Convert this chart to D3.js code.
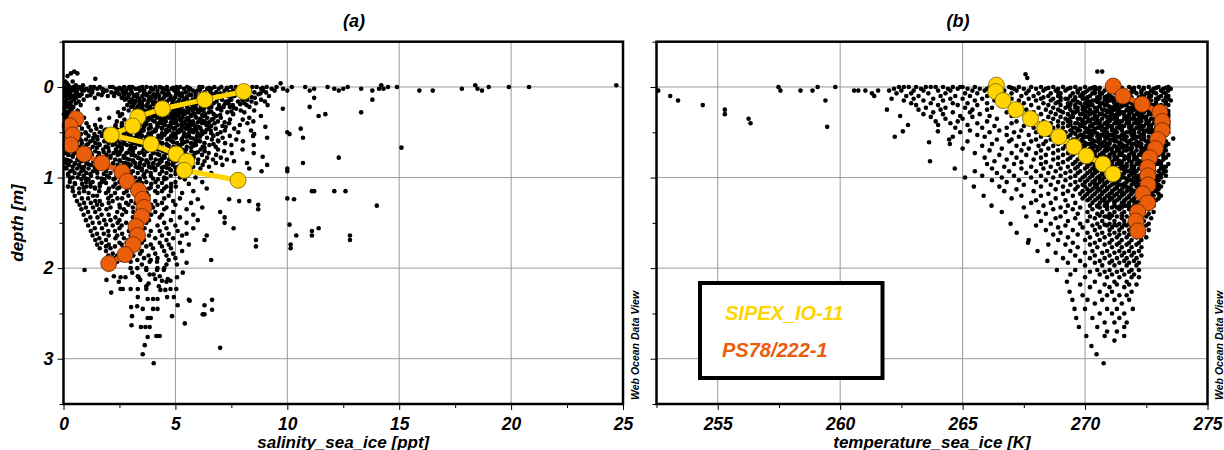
<!DOCTYPE html>
<html><head><meta charset="utf-8">
<script src="https://cdn.jsdelivr.net/npm/d3@7"></script>
<style>
body{margin:0;background:#fff}
svg text{font-family:"Liberation Sans",Arial,Helvetica,sans-serif;font-weight:bold;font-style:italic}
</style>
</head><body>
<svg id="chart" width="1224" height="450"></svg>
<script>
// ---------------- data ----------------
const salTicks = [0, 5, 10, 15, 20, 25];
const salMinor = [2.5, 7.5, 12.5, 17.5, 22.5];
const tempTicks = [255, 260, 265, 270, 275];
const tempMinor = [252.5, 257.5, 262.5, 267.5, 272.5];
const depthTicks = [0, 1, 2, 3];
const depthMinor = [-0.5, 0.5, 1.5, 2.5, 3.5];
const titles = ["(a)", "(b)"];
const xLabels = ["salinity_sea_ice [ppt]", "temperature_sea_ice [K]"];
const yLabel = "depth [m]";
const seriesNames = ["SIPEX_IO-11", "PS78/222-1"];

// all samples: [depth, [salinity values at that depth]]
const salRows = [
[-0.17,[0.48]],[-0.15,[0.33,0.62]],[-0.12,[0.18]],[-0.09,[1.42]],[-0.06,[0.08,0.41]],[-0.04,[9.7,0.15]],
[-0.02,[0.22,0.87,14.2,18.4,24.7,0.55]],
[0,[0.05,0.27,0.44,0.71,0.83,1.21,1.36,1.62,2.08,2.2,2.71,2.95,3.08,3.52,3.71,4.11,4.3,4.62,5.05,5.21,5.52,6.07,6.2,6.74,7.05,7.49,7.7,8.44,8.63,9.08,9.52,10.2,10.8,11.8,12.7,14.5,14.9,19.0,19.9,20.8]],
[0.01,[0.15,0.5,2.5,2.9,3.4,3.9,4.4,4.9,5.6,6.5,7.3,8.1,8.9]],
[0.02,[0.12,0.36,0.62,1.02,1.51,1.72,2.33,2.57,3.21,3.33,3.94,4.48,4.83,5.38,5.66,6.42,6.61,6.93,7.31,7.92,8.12,8.83,9.3,9.81,11.2,12.1,12.5,13.3,14.1,14.3,17.8,18.5]],
[0.03,[2.6,3.0,3.5,4.0,4.5,5.1,5.6,6.1,0.4,0.8,1.3,1.8]],
[0.04,[0.19,0.48,0.92,1.13,1.93,2.42,2.8,3.42,3.61,4.2,4.66,4.95,5.78,5.98,6.55,7.2,7.58,8.33,8.92,9.43,10.0,11.0,12.3,13.8,15.9,16.5,18.7]],
[0.06,[0.07,0.31,0.6,1.28,1.77,2.14,2.67,3.05,3.85,4.41,5.12,5.46,6.3,6.82,7.41,8.0,8.53,9.05]],
[0.07,[2.3,2.8,3.6,4.2,4.7,5.3,5.9,6.6,7.0,7.9,8.8]],
[0.08,[0.23,0.54,0.81,1.55,2.49,2.93,3.3,3.71,4.03,4.55,5.03,5.63,6.13,6.68,7.12,7.83,8.71]],
[0.09,[2.7,3.2,3.7,4.1,4.6,5.2,5.7,6.2,0.3,0.7,1.2,1.7]],
[0.1,[0.1,0.41,0.72,1.06,1.98,2.26,3.14,3.52,4.27,4.78,5.29,5.9,6.44,7.34,7.64,8.22,9.18]],
[0.11,[0.3,2.9,3.3,3.9,4.5,5.0,5.5,6.1,6.8,7.5,8.4]],
[0.12,[0.28,0.56,1.4,2.6,3.83,4.1,4.96,5.52,6.03,6.91,7.97,8.55,11.2]],
[0.13,[2.8,3.4,3.9,4.3,4.8,5.4,5.9,6.4]],
[0.14,[0.14,0.47,0.9,2.74,3.05,3.6,4.42,4.72,5.18,5.77,6.24,7.08,7.5,8.21,8.83,13.8]],
[0.15,[3.2,3.8,4.3,4.9,5.4,6.0,6.5,7.4,8.0]],
[0.16,[0.06,0.35,0.68,2.95,3.38,3.97,4.61,5.35,5.61,6.58,6.84,7.25,7.8,8.4,9.0]],
[0.17,[3.0,3.5,4.1,4.6,5.1,5.6,6.2]],
[0.18,[0.21,0.55,3.18,3.76,4.28,4.87,5.06,5.44,6.02,6.71,7.37,8.09,8.6]],
[0.19,[3.4,4.0,4.6,5.2,5.7,6.3,7.2,7.9]],
[0.2,[0.09,0.32,0.77,2.85,3.52,4.16,4.52,4.99,5.83,6.36,6.95,7.56,8.18,9.12]],
[0.21,[3.1,3.7,4.3,4.8,5.3,5.9,6.4]],
[0.22,[0.2,0.44,3.02,3.3,3.87,4.71,5.25,5.52,6.14,6.61,7.15,7.43,8.31,11.0]],
[0.23,[3.5,4.2,4.5,5.1,5.8,6.5,7.0,7.6]],
[0.24,[0.05,0.38,1.52,2.7,3.45,4.06,4.34,4.92,5.68,5.92,6.28,6.88,7.71,9.8]],
[0.25,[3.2,3.8,4.2,4.7,5.2,5.6,6.1]],
[0.26,[0.28,0.63,2.91,3.62,3.96,4.48,5.04,5.37,5.77,6.2,7.05,7.92,8.52]],
[0.27,[3.3,3.8,4.4,4.9,5.5,6.0,6.6,7.5]],
[0.28,[0.12,0.19,2.44,3.14,3.81,4.23,4.67,5.18,5.57,6.04,6.5,7.32,8.08,13.3]],
[0.29,[3.5,4.0,4.5,5.0,5.3,5.8,6.3]],
[0.3,[0.02,0.25,0.51,2.62,3.37,3.92,4.41,4.83,5.42,5.85,6.33,6.71,7.58,11.7]],
[0.31,[3.1,3.6,4.1,4.6,5.1,5.7,6.2,7.0]],
[0.32,[0.18,0.42,2.52,3.55,4.02,4.55,4.95,5.12,5.7,6.27,6.83,8.82,11.4]],
[0.33,[3.3,3.8,4.3,4.8,5.3,5.9]],
[0.34,[0.08,0.31,0.92,2.04,3.71,4.18,4.68,5.32,5.58,5.93,6.42,7.03,8.3]],
[0.35,[3.9,4.5,5.0,5.5,6.1,6.7]],
[0.36,[0.22,1.62,2.72,3.82,4.35,4.86,5.2,5.51,6.1,6.62,7.44,8.01]],
[0.37,[3.4,4.0,4.5,5.0,5.6,6.2]],
[0.38,[0.07,0.39,2.38,3.48,4.07,4.57,5.03,5.27,5.78,6.31,6.9,8.48]],
[0.39,[3.7,4.3,4.8,5.4,6.0,6.5,7.2]],
[0.4,[0.27,1.03,2.61,3.66,4.38,4.98,5.4,5.63,6.19,6.75,7.4,8.22]],
[0.41,[3.2,3.7,4.2,4.8,5.3,5.8,6.4]],
[0.42,[0.11,0.16,0.7,1.41,2.33,3.4,3.88,4.52,5.11,5.52,5.71,6.38,7.88]],
[0.43,[2.6,3.0,3.6,4.2,4.7,5.3,5.9,6.6,7.1]],
[0.44,[0.38,1.12,1.68,2.31,2.98,3.6,4.21,4.8,5.32,5.5,6.02,6.51,7.25,9.02]],
[0.45,[2.8,3.3,3.9,4.4,5.0,5.6,6.1]],
[0.46,[0.06,0.3,0.82,1.47,2.62,3.18,3.81,4.4,4.93,5.45,5.88,6.12,6.8,7.63,10.6]],
[0.47,[1.9,2.4,2.9,3.5,4.1,4.6,5.2,5.7,6.4]],
[0.48,[0.2,0.57,1.22,1.83,2.52,3.07,3.58,4.12,4.73,5.27,5.62,5.92,6.58,7.21,8.38]],
[0.49,[2.5,3.0,3.5,4.1,4.6,5.1,5.7,6.2]],
[0.5,[0.08,0.43,0.98,1.62,2.2,2.81,3.42,3.97,4.6,5.15,5.8,6.33,7.02,7.81,10.0]],
[0.51,[1.0,1.8,2.3,2.7,3.3,3.8,4.4,4.9,5.4,6.0,6.6]],
[0.52,[0.31,0.78,1.38,2.03,2.71,3.27,3.9,4.52,5.01,5.59,6.2,6.88,8.52,10.1]],
[0.53,[2.4,2.9,3.4,3.9,4.5,5.0,5.6,6.1]],
[0.54,[0.13,0.5,1.12,1.71,2.44,3.0,3.51,4.24,4.81,5.37,5.97,6.7,7.43,8.47]],
[0.55,[0.6,1.5,2.1,2.6,3.3,3.7,4.3,4.9,5.5,6.1]],
[0.56,[0.22,0.71,1.33,1.94,2.62,3.18,3.8,4.38,5.02,5.68,6.41,7.11,9.1,10.7]],
[0.57,[2.6,3.2,3.7,4.2,4.7,5.3,5.8]],
[0.58,[0.4,1.01,1.52,2.13,2.82,3.4,4.02,4.63,5.28,5.91,6.63,7.72]],
[0.59,[0.2,0.8,1.3,1.9,2.4,3.0,3.5,4.1,4.8,5.3,6.0,6.9]],
[0.6,[0.09,0.6,1.2,1.82,2.3,2.98,3.62,4.18,4.88,5.52,6.1,6.92,8.02]],
[0.61,[2.7,3.2,3.7,4.3,4.9,5.4,5.9]],
[0.62,[0.3,0.82,1.43,2.01,2.52,3.13,3.7,4.41,5.08,5.7,6.3,7.22]],
[0.63,[0.5,1.1,1.6,2.3,2.7,3.3,3.9,4.6,5.3,5.8,6.7]],
[0.64,[0.11,0.52,1.03,1.62,2.2,2.83,3.42,4.02,4.63,5.2,5.92,6.52,7.5,8.5]],
[0.65,[2.5,3.0,3.6,4.1,4.7,5.2,5.8]],
[0.66,[0.23,0.72,1.31,1.88,2.42,3.02,3.63,4.31,4.92,5.51,6.22,6.8]],
[0.67,[15.1,0.3,0.9,1.5,2.0,2.6,3.2,3.8,4.4,5.1,5.7,6.3]],
[0.69,[0.12,0.58,1.18,1.77,2.34,2.96,3.58,4.21,4.87,5.48,6.13,6.9,8.0,2.6,3.1,3.7,4.3,4.8,5.3]],
[0.71,[0.33,0.83,1.42,2.03,2.55,3.1,3.74,4.44,5.09,5.72,6.31,7.18]],
[0.72,[0.1,0.6,1.2,1.8,2.4,2.9,3.5,4.0,4.7,5.4,6.0]],
[0.73,[0.07,0.49,1.01,1.58,2.24,2.81,3.38,4.03,4.6,5.23,5.88,6.49,7.52,8.5]],
[0.74,[2.5,3.1,3.6,4.2,4.8,5.4]],
[0.75,[0.21,0.74,1.27,1.92,2.42,3.04,3.61,4.28,4.91,5.53,6.19,6.82]],
[0.76,[0.4,1.0,1.6,2.1,2.7,3.2,3.9,4.5,5.1,5.8]],
[0.77,[8.9,0.41,1.53]],
[0.78,[0.93,2.1,2.68,3.32,3.91,4.52,5.18,5.81,6.42,7.03,12.3]],
[0.79,[2.8,3.4,3.9,4.4,5.0]],
[0.8,[0.1,0.62,1.1,1.72,2.31,2.93,3.5,4.12,4.72,5.38,6.02,6.68,7.3]],
[0.81,[0.2,0.7,1.4,1.9,2.5,3.1,3.7,4.3,4.9,5.6]],
[0.82,[0.32,0.81,1.34,1.9,2.53,3.12,3.72,4.38,5.02,5.61,6.3,7.62]],
[0.84,[0.12,0.52,1.02,1.61,2.22,2.78,3.42,4.02,4.62,5.28,6.0,6.81,8.2,10.7,2.7,3.2,3.8,4.3,4.9]],
[0.85,[0.5,1.1,1.6,2.2,2.9,3.4,4.0,4.7,5.3]],
[0.86,[9.1,0.24,0.7,1.23,1.82,2.41,3.0,3.61,4.21,4.88,5.52,6.22,7.1]],
[0.88,[0.41,0.92,1.41,2.02,2.62,3.22,3.82,4.5,5.12,5.8,6.5]],
[0.89,[0.1,0.8,1.4,2.0,2.6,3.3,3.9,4.4,5.0,5.7,2.9,3.4,4.0,4.6]],
[0.9,[10.0,0.13,0.61,1.12,1.68,2.22,2.88,3.5,4.1,4.72,5.41,6.12,8.3]],
[0.92,[0.4,0.9,1.5,2.3,2.9,3.5,4.1,4.8]],
[0.93,[10.0,0.3,0.8,1.32,1.9,2.52,3.1,3.72,4.41,5.02,5.7,8.85]],
[0.95,[0.5,1.02,1.51,2.1,2.7,3.32,3.9,4.6,5.22,6.0,6.6]],
[0.96,[0.2,0.7,1.2,1.8,2.4,3.0,3.6,4.3,5.0]],
[0.98,[0.22,0.9,1.23,1.95,2.38,2.71,3.57,3.9,4.79,5.52]],
[1.0,[0.41,0.63,1.52,2.04,2.9,3.2,3.63,4.5,5.2,5.9]],
[1.01,[0.3,1.0,1.7,2.3,2.7,3.4,4.0,4.6]],
[1.02,[0.8,1.12,1.83,2.24,2.6,3.41,4.22,4.5,5.42]],
[1.05,[0.28,1.01,1.3,1.72,2.5,3.3,3.7,4.11,5.0,6.2]],
[1.06,[0.5,1.2,1.9,2.6,3.1,3.5,4.4]],
[1.07,[0.52,0.83,1.62,2.32,2.72,3.12,3.92,4.81,5.6]],
[1.1,[0.2,1.02,1.21,1.62,2.22,3.0,3.41,4.22,4.6,5.02]],
[1.11,[0.4,0.9,1.4,2.5,2.9,3.9,4.8]],
[1.12,[0.7,1.41,2.03,2.41,3.2,3.62,3.82,4.5,6.4]],
[1.15,[11.1,11.2,12.1,12.6,0.42,0.92,1.6,2.0,2.82,3.1,4.1,4.4,4.8,5.8]],
[1.17,[0.7,1.12,1.9,2.3,2.7,3.72,4.2,5.3]],
[1.2,[0.5,1.32,1.5,2.12,2.9,3.3,3.8,4.7]],
[1.23,[10.0,0.82,1.1,2.0,2.41,2.62,3.6,4.5,5.2]],
[1.24,[10.3,6.0,7.4]],
[1.26,[0.6,1.42,1.62,2.2,3.02,3.3,4.1,4.9,7.85,8.3]],
[1.28,[0.92,1.22,2.02,2.8,3.22,3.62,4.4,5.7]],
[1.3,[8.7,0.72,1.5,1.72,2.5,2.9,3.92,4.2,5.0]],
[1.31,[14.0]],
[1.33,[1.0,1.32,2.1,2.52,3.1,4.0,4.6,6.2]],
[1.35,[8.7,0.8,1.6,1.92,2.7,3.32,3.6,4.5,5.5]],
[1.38,[1.1,1.42,2.4,2.8,3.12,4.1,4.9,7.0]],
[1.41,[0.9,1.7,2.02,2.62,3.4,3.92,4.4,5.8]],
[1.44,[1.2,1.52,2.32,3.1,3.5,4.3,5.2,7.2]],
[1.47,[1.0,1.82,2.1,2.5,3.32,3.82,4.8,6.0]],
[1.5,[1.3,1.6,2.42,2.8,3.7,4.5,5.5,7.2]],
[1.52,[10.1,1.9,3.0]],
[1.53,[1.1,2.2,2.6,3.4,4.2,5.0]],
[1.56,[11.4,1.4,1.72,2.5,3.1,3.62,4.6,5.8,7.6]],
[1.59,[11.1,1.22,2.0,2.3,2.92,3.9,4.3,5.1]],
[1.62,[1.5,1.8,2.62,3.2,3.5,4.7,5.5]],
[1.64,[10.4,11.1,12.8,1.3,2.02,2.4,3.0,3.82,4.4,5.3,6.4]],
[1.67,[1.6,2.32,2.7,3.4,4.1,4.9]],
[1.69,[8.6,12.8,1.42,1.9,2.9,3.12,3.6,4.6,6.3]],
[1.72,[1.7,2.5,2.82,3.5,4.3,5.2]],
[1.74,[10.15,1.5,2.02,2.6,3.22,3.9,4.7,5.6]],
[1.76,[8.6,1.9,2.3,3.0,3.7,4.4]],
[1.78,[10.15,1.62,2.1,2.7,3.32,4.0,4.8]],
[1.81,[1.9,2.6,3.02,3.5,4.5,5.3]],
[1.84,[2.2,2.8,3.42,4.1,4.9]],
[1.86,[2.0,2.4,3.12,3.8,4.6]],
[1.89,[2.3,2.92,3.6,4.2,5.0]],
[1.91,[6.6,2.6,3.3,3.9,4.7]],
[1.93,[2.4,3.0,3.85,4.18]],
[1.94,[5.5]],
[1.96,[3.5,4.6,5.07]],
[2.0,[3.0,3.3,3.7,4.2,4.5]],
[2.02,[0.94,3.7,4.18,4.48]],
[2.05,[3.07,5.33]],
[2.07,[3.85,4.03]],
[2.09,[2.25,3.32,4.3]],
[2.1,[2.55,2.77,3.36,5.07]],
[2.12,[4.1,4.66]],
[2.13,[1.92,3.43]],
[2.14,[4.4,4.78]],
[2.15,[2.47,4.6]],
[2.17,[3.8]],
[2.2,[3.7,4.26]],
[2.23,[2.55,2.65,3.0,3.32,3.7,4.78,5.04]],
[2.24,[4.33,4.55]],
[2.27,[2.13]],
[2.32,[3.32,4.63,4.93]],
[2.34,[3.76,4.0,4.2]],
[2.35,[5.6,6.64]],
[2.36,[5.64]],
[2.41,[5.1,6.3]],
[2.42,[3.29]],
[2.43,[3.02]],
[2.45,[3.54,4.0,4.2]],
[2.46,[6.64]],
[2.51,[6.22,6.3]],
[2.53,[3.06,4.85]],
[2.55,[3.76,3.9]],
[2.61,[5.42]],
[2.63,[3.04]],
[2.65,[3.46,3.66,3.85]],
[2.75,[4.15,4.3]],
[2.76,[3.76]],
[2.85,[3.63]],
[2.88,[7.0]],
[2.95,[3.54]],
[3.05,[4.03]]
];

// all samples: [depth, [temperature values at that depth]]
const tempRows = [
[-0.17,[270.5,270.7]],[-0.14,[267.57]],[-0.1,[267.64]],
[0.0,[257.48,259.08,259.8,262.4,262.6,262.8,263.1,263.5,263.7,263.9,264.2,264.6,264.9,265.0,265.5,266.1,266.9,267.3,267.8,268.2,268.7,269.1,269.6,270.0,270.4,270.9,271.3,271.8,272.2,272.6,273.0,273.4]],
[0.01,[266.4,267.0,268.5,269.4,270.3,270.6,271.1,271.5,272.0,272.4,272.9,273.3]],
[0.02,[262.2,263.3,264.4,264.8,265.2,265.7,266.0,267.1,267.5,268.0,268.4,268.9,269.3,269.8,270.2,270.5,271.9,272.4,272.8,273.2,273.5]],
[0.04,[252.57,257.56,258.38,258.87,260.57,260.74,261.03,261.55,262.0,262.5,263.0,263.4,264.0,264.5,265.4,265.9,266.7,267.2,267.7,268.3,268.8,269.2,269.7,270.1,270.4,270.8,271.6,272.0,272.3,272.7,273.1,273.4]],
[0.06,[268.9,269.7,270.0,270.6,271.2,271.7,271.9,272.3,272.8,273.2]],
[0.07,[261.3,262.3,262.9,263.6,264.3,265.1,265.6,266.2,267.0,267.6,268.1,268.6,269.0,269.5,269.9,270.3,270.4,270.7,271.0,271.4,271.5,272.1,272.5,272.6,272.9,273.3]],
[0.1,[253.06,261.39,262.7,263.2,264.1,264.7,265.3,266.0,266.8,267.4,267.9,268.5,268.9,269.4,269.8,269.9,270.2,270.6,270.9,271.0,271.3,271.7,272.3,272.4,272.7,273.1,273.4]],
[0.115,[268.3,269.0,269.6,270.1,270.5,270.8,271.1,271.5,271.9,272.2,272.6,273.0,273.3]],
[0.13,[262.1,263.0,263.8,264.5,265.0,265.8,267.0,267.7,268.2,268.7,269.2,269.3,269.9,270.0,270.5,270.6,270.9,271.2,271.3,271.7,271.8,272.3,272.4,272.9,273.0,273.4]],
[0.15,[253.38,259.4,262.6,263.4,264.2,265.5,266.3,267.3,268.0,268.6,269.0,269.5,269.6,270.1,270.3,270.4,270.8,271.0,271.1,271.5,271.6,272.0,272.1,272.6,272.7,273.2,273.5]],
[0.165,[268.9,269.7,270.2,270.5,270.9,271.2,271.4,271.8,272.2,272.5,272.9,273.3]],
[0.18,[262.9,263.7,264.6,265.2,266.0,267.5,268.3,268.8,269.3,269.4,269.8,270.0,270.1,270.6,270.7,271.2,271.4,271.5,271.9,272.0,272.4,272.5,272.9,273.3]],
[0.2,[254.39,263.1,264.0,264.8,265.6,266.5,267.8,268.5,269.0,269.4,269.6,270.2,270.3,270.8,270.9,271.3,271.6,271.7,272.2,272.3,272.7,272.8,273.1,273.4]],
[0.215,[269.3,269.9,270.1,270.6,271.0,271.2,271.5,272.0,272.4,272.8,273.2]],
[0.23,[263.5,264.3,265.1,266.2,267.2,268.1,268.7,269.2,269.6,269.7,270.0,270.4,270.5,271.0,271.1,271.4,271.8,271.9,272.3,272.5,272.6,273.0,273.2]],
[0.25,[255.29,261.91,263.2,264.1,265.4,266.0,267.6,268.4,268.9,269.4,269.9,270.0,270.2,270.7,270.8,271.2,271.3,271.7,272.0,272.1,272.5,272.9,273.0,273.3]],
[0.265,[269.0,269.7,270.0,270.5,270.9,271.1,271.4,271.8,272.2,272.6,273.0,273.4]],
[0.28,[263.8,264.6,265.3,266.8,267.9,268.6,269.1,269.5,269.6,270.1,270.3,270.4,270.9,271.0,271.5,271.6,271.9,272.3,272.4,272.8,273.1,273.2]],
[0.3,[255.29,263.4,264.2,265.7,267.3,268.2,268.8,269.3,269.8,269.9,270.2,270.6,270.7,271.1,271.3,271.4,271.8,272.1,272.2,272.6,272.7,273.0,273.4]],
[0.315,[269.5,270.0,270.4,270.8,271.2,271.6,272.0,272.3,272.9,273.3]],
[0.32,[262.45,264.9,266.1,267.0,268.0]],
[0.33,[263.7,265.4,268.5,269.0,269.4,269.5,270.0,270.1,270.5,270.9,271.0,271.3,271.7,271.8,272.2,272.4,272.5,272.9,273.0,273.4]],
[0.35,[256.26,264.3,265.0,266.4,267.6,268.7,269.2,269.7,269.8,270.3,270.4,270.7,271.1,271.2,271.6,271.9,272.0,272.3,272.7,272.8,273.2]],
[0.365,[269.3,269.9,270.2,270.5,271.0,271.3,271.7,272.1,272.5,272.9,273.3]],
[0.38,[263.9,264.8,266.0,267.2,268.3,268.9,269.3,269.4,269.9,270.1,270.2,270.6,270.9,271.0,271.4,271.5,271.8,272.2,272.3,272.6,273.0,273.1,273.4]],
[0.4,[256.34,264.5,265.6,267.0,268.1,268.6,269.1,269.6,269.7,270.0,270.4,270.5,270.8,271.2,271.3,271.7,272.0,272.1,272.5,272.8,272.9,273.3]],
[0.415,[269.4,269.8,270.3,270.6,270.9,271.4,271.8,272.2,272.6,273.0,273.4]],
[0.42,[262.77,264.0,265.2]],
[0.43,[266.3,267.5,268.4,268.9,269.3,269.8,269.9,270.2,270.3,270.7,271.0,271.1,271.5,271.6,271.9,272.3,272.4,272.7,273.1,273.2]],
[0.44,[259.47]],
[0.45,[264.7,265.8,266.8,267.9,268.7,269.1,269.5,269.6,270.0,270.5,270.6,270.9,271.3,271.4,271.8,272.1,272.2,272.6,272.9,273.0,273.4]],
[0.465,[269.7,270.1,270.4,270.8,271.1,271.5,271.9,272.3,272.7,273.1]],
[0.48,[265.3,266.5,267.4,268.3,268.9,269.4,269.7,269.8,270.2,270.3,270.7,271.1,271.2,271.5,271.9,272.0,272.4,272.5,272.8,273.2,273.3]],
[0.49,[262.56,263.99]],
[0.5,[264.9,266.1,267.1,268.0,268.6,269.2,269.5,270.0,270.1,270.4,270.8,270.9,271.3,271.7,271.8,272.2,272.6,272.7,273.0,273.4]],
[0.515,[269.6,270.2,270.5,270.9,271.2,271.6,272.0,272.4,272.8,273.2]],
[0.53,[265.6,266.8,267.7,268.5,269.0,269.4,269.8,269.9,270.3,270.6,270.7,271.0,271.1,271.5,271.9,272.0,272.3,272.4,272.8,273.2,273.3]],
[0.55,[262.23,264.6,265.9,267.3,268.2,268.8,269.3,269.7,270.0,270.1,270.5,270.8,270.9,271.3,271.4,271.7,272.1,272.2,272.6,272.9,273.0]],
[0.565,[269.9,270.2,270.6,270.9,271.2,271.6,272.0,272.4,272.8,273.2]],
[0.57,[273.6]],
[0.58,[264.45,266.4,267.0,268.0,268.6,269.1,269.5,269.6,270.2,270.3,270.6,271.0,271.1,271.5,271.6,271.9,272.3,272.4,272.7,273.1,273.2]],
[0.6,[265.2,266.9,267.8,268.4,269.0,269.4,269.8,269.9,270.4,270.5,270.8,271.2,271.3,271.7,271.8,272.1,272.5,272.6,272.9,273.3]],
[0.61,[263.63]],
[0.615,[270.0,270.3,270.7,271.0,271.4,271.8,272.2,272.6,273.0]],
[0.63,[264.48,266.2,267.5,268.3,268.9,269.3,269.7,270.1,270.2,270.6,270.9,271.0,271.4,271.5,271.9,272.0,272.3,272.7,272.8,273.1,273.4]],
[0.65,[265.8,267.2,268.1,268.7,269.2,269.6,269.9,270.0,270.4,270.7,270.8,271.2,271.6,271.7,272.1,272.2,272.5,272.9,273.0,273.3]],
[0.665,[269.9,270.3,270.5,270.9,271.3,271.5,271.9,272.3,272.7,273.1]],
[0.68,[265.0,266.6,267.7,268.5,269.1,269.5,269.8,270.2,270.3,270.6,271.0,271.1,271.4,271.8,271.9,272.3,272.4,272.7,273.1,273.2]],
[0.7,[266.1,267.4,268.2,268.9,269.4,269.7,270.0,270.1,270.5,270.8,270.9,271.3,271.6,271.7,272.1,272.5,272.6,273.0,273.3]],
[0.715,[270.2,270.4,270.8,271.1,271.4,271.9,272.3,272.7,273.1]],
[0.73,[265.5,267.0,268.0,268.7,269.3,269.6,270.0,270.3,270.4,270.7,271.1,271.2,271.5,271.9,272.0,272.3,272.4,272.8,273.1,273.2]],
[0.75,[266.5,267.6,268.4,269.1,269.5,269.9,270.2,270.6,270.7,271.0,271.4,271.5,271.8,272.2,272.3,272.6,273.0,273.4]],
[0.765,[270.0,270.4,270.8,271.2,271.6,272.0,272.4,272.8,273.2]],
[0.78,[265.9,267.2,268.2,268.9,269.4,269.8,270.1,270.2,270.5,270.9,271.0,271.3,271.7,271.8,272.1,272.5,272.6,272.9,273.3]],
[0.8,[266.8,267.9,268.7,269.3,269.7,270.0,270.4,270.5,270.8,271.2,271.3,271.6,272.0,272.1,272.4,272.8,272.9,273.2]],
[0.815,[270.3,270.6,271.0,271.4,271.8,272.2,272.6,273.0]],
[0.82,[263.67,266.3]],
[0.83,[267.4,268.4,269.1,269.6,269.9,270.3,270.6,270.7,271.1,271.4,271.5,271.9,272.2,272.3,272.7,273.0,273.1]],
[0.85,[266.0,267.1,268.2,268.9,269.5,269.8,270.2,270.5,270.6,270.9,271.3,271.4,271.7,272.1,272.2,272.5,272.9,273.0,273.4]],
[0.865,[270.1,270.4,270.7,271.1,271.5,271.9,272.3,272.7,273.1]],
[0.88,[266.7,267.8,268.6,269.3,269.7,270.1,270.4,270.8,270.9,271.2,271.6,271.7,272.0,272.4,272.5,272.8,273.2,273.3]],
[0.9,[264.68,266.2,267.4,268.3,269.0,269.6,270.0,270.3,270.6,270.7,271.1,271.4,271.5,271.9,272.2,272.3,272.7,273.1]],
[0.915,[270.4,270.8,271.2,271.6,272.0,272.4,272.8,273.2]],
[0.93,[265.5,266.9,268.0,268.8,269.4,269.8,270.2,270.5,270.9,271.0,271.3,271.7,271.8,272.1,272.5,272.6,273.0,273.3]],
[0.95,[266.4,267.6,268.5,269.2,269.7,270.1,270.4,270.7,271.1,271.2,271.6,271.9,272.0,272.4,272.7,272.8,273.2]],
[0.965,[270.3,270.7,271.0,271.5,271.9,272.3,272.7,273.1]],
[0.98,[265.8,267.1,268.2,269.0,269.6,270.0,270.3,270.6,270.9,271.3,271.4,271.8,272.1,272.2,272.6,272.9,273.0,273.3]],
[1.0,[265.1,266.6,267.8,268.7,269.4,269.9,270.2,270.5,270.8,271.2,271.5,271.6,272.0,272.3,272.4,272.8,273.1]],
[1.015,[270.6,271.0,271.3,271.7,272.1,272.5,272.9]],
[1.03,[266.2,267.3,268.4,269.2,269.8,270.1,270.4,270.7,271.0,271.1,271.4,271.8,271.9,272.2,272.6,272.7,273.0]],
[1.05,[266.8,268.0,268.9,269.6,270.0,270.3,270.6,270.9,271.2,271.3,271.7,272.0,272.1,272.5,272.8,272.9,273.2]],
[1.065,[270.4,270.8,271.2,271.6,272.0,272.4,272.8]],
[1.08,[267.5,268.6,269.4,269.9,270.2,270.5,270.8,271.1,271.4,271.5,271.9,272.2,272.3,272.7,273.0]],
[1.1,[265.46,266.5,268.2,269.1,269.7,270.0,270.4,270.7,271.0,271.3,271.6,271.7,272.1,272.4,272.5,272.9,273.1]],
[1.115,[270.5,270.9,271.3,271.8,272.2,272.6]],
[1.13,[267.2,268.8,269.6,270.1,270.3,270.6,270.9,271.2,271.5,271.8,271.9,272.3,272.6,272.7,273.0]],
[1.15,[266.7,267.9,269.3,269.9,270.2,270.5,270.8,271.1,271.4,271.7,272.0,272.1,272.5,272.8,272.9]],
[1.165,[270.7,271.1,271.5,271.9,272.3,272.7]],
[1.18,[268.5,269.1,269.8,270.1,270.4,270.7,271.0,271.3,271.6,271.9,272.2,272.3,272.7,273.0]],
[1.2,[265.86,267.4,268.2,269.5,270.0,270.3,270.6,270.9,271.2,271.5,271.8,272.1,272.4,272.5,272.8,273.1]],
[1.215,[270.6,271.0,271.4,271.8,272.2,272.6]],
[1.23,[267.0,268.8,269.9,270.2,270.5,270.8,271.1,271.4,271.7,272.0,272.3,272.6,272.7,273.0]],
[1.25,[268.0,269.2,270.1,270.4,270.7,271.0,271.3,271.6,271.9,272.2,272.5,272.8,272.9]],
[1.265,[270.8,271.2,271.6,272.0,272.3]],
[1.28,[267.8,268.6,269.6,270.3,270.6,270.9,271.2,271.5,271.8,272.1,272.4,272.7]],
[1.31,[266.18,268.3,269.3,270.2,270.5,270.8,271.2,271.6,271.7,272.0,272.4,272.8]],
[1.32,[270.5,270.9,271.4,271.8,272.2]],
[1.33,[267.5,269.0,269.8,270.6,271.1,271.3,271.5,271.9,272.3,272.7]],
[1.35,[268.7,269.5,270.3,270.9,271.4,271.8,271.9,272.2,272.6]],
[1.38,[266.6,268.1,269.2,270.1,270.7,271.2,271.6,272.0,272.1,272.4,272.8]],
[1.4,[268.4,269.7,270.5,271.0,271.5,271.9,272.3,272.6]],
[1.42,[270.6,271.1,271.5,272.0,272.3]],
[1.43,[267.6,269.0,270.2,270.8,270.9,271.3,271.7,272.1,272.5]],
[1.45,[268.8,269.6,270.4,271.0,271.5,271.9,272.3,272.7]],
[1.48,[268.2,269.3,270.1,270.7,271.2,271.6,272.0,272.1,272.4]],
[1.51,[266.96,268.6,269.8,270.5,271.0,271.4,271.8,272.2,272.6]],
[1.52,[270.8,271.2,271.6,272.0]],
[1.53,[268.0,269.2,270.3,270.9,271.3,271.7,272.1,272.5]],
[1.55,[268.9,269.9,270.6,271.1,271.5,271.9,272.3]],
[1.58,[268.4,269.5,270.4,271.0,271.4,271.8,272.2,272.6]],
[1.61,[267.21,269.0,270.1,270.7,271.2,271.6,272.0,272.4]],
[1.63,[268.7,269.7,270.5,271.0,271.4,271.8,272.2]],
[1.66,[269.3,270.2,270.8,271.3,271.7,272.1,272.5]],
[1.69,[267.7,268.9,270.0,270.6,271.1,271.5,271.9,272.3]],
[1.72,[267.67,269.5,270.4,271.0,271.4,271.8,272.2]],
[1.74,[268.5,269.2,270.2,270.8,271.3,271.7,272.1]],
[1.77,[269.7,270.5,271.1,271.5,271.9,272.3]],
[1.81,[268.06,269.4,270.3,270.9,271.4,271.8,272.2]],
[1.83,[268.8,270.0,270.7,271.2,271.6,272.0]],
[1.86,[269.6,270.4,271.0,271.5,271.9,272.3]],
[1.89,[269.1,270.2,270.8,271.3,271.7,272.1]],
[1.92,[268.46,269.8,270.6,271.1,271.6,272.0]],
[1.94,[269.3,270.4,271.0,271.4,271.8,272.2]],
[1.97,[270.0,270.7,271.2,271.7,272.1]],
[2.02,[268.85,269.6,270.5,271.0,271.5,271.9,272.2]],
[2.04,[270.2,270.8,271.3,271.8]],
[2.07,[269.4,270.6,271.1,271.6,272.0]],
[2.1,[270.0,270.9,271.4,271.9,272.2]],
[2.15,[269.26,270.4,271.2,271.7]],
[2.18,[269.8,270.8,271.3,271.8,272.1]],
[2.21,[270.2,271.0,271.6]],
[2.26,[269.37,270.6,271.1,271.9]],
[2.3,[269.9,270.9,271.4,271.7]],
[2.35,[269.48,270.1,270.7,271.2,271.8]],
[2.39,[270.4,271.5]],
[2.45,[269.57,270.0,270.9,271.3,271.95]],
[2.5,[270.6,271.1,271.6]],
[2.55,[269.64,270.3,271.4]],
[2.6,[270.8,271.2,271.7]],
[2.65,[269.75,270.5,271.6]],
[2.7,[270.9,271.3]],
[2.75,[270.05,270.8,271.6]],
[2.8,[271.2]],
[2.86,[270.26]],
[2.95,[270.47]],
[3.05,[270.76]]
];

// highlighted profiles
const sipexSal = [8.05, 6.31, 4.42, 3.32, 3.09, 2.13, 3.91, 5.03, 5.5, 5.4, 7.8];
const sipexSalDepth = [0.05, 0.14, 0.24, 0.33, 0.43, 0.53, 0.63, 0.74, 0.82, 0.92, 1.03];
const psSal = [0.56, 0.29, 0.41, 0.32, 0.92, 1.71, 2.62, 2.84, 3.35, 3.53, 3.6, 3.49, 3.24, 3.31, 3.11, 2.75, 2.02];
const psSalDepth = [0.35, 0.43, 0.53, 0.64, 0.74, 0.84, 0.94, 1.04, 1.14, 1.24, 1.33, 1.43, 1.54, 1.64, 1.74, 1.85, 1.95];
const sipexTemp = [266.38, 266.35, 266.65, 267.17, 267.77, 268.35, 268.93, 269.55, 270.05, 270.73, 271.14];
const sipexTempDepth = [-0.02, 0.05, 0.15, 0.25, 0.35, 0.46, 0.55, 0.66, 0.76, 0.85, 0.96];
const psTemp = [271.15, 271.55, 272.33, 273.06, 273.15, 273.15, 272.97, 272.87, 272.64, 272.56, 272.56, 272.57, 272.36, 272.56, 272.15, 272.08, 272.15];
const psTempDepth = [-0.01, 0.10, 0.19, 0.28, 0.38, 0.48, 0.58, 0.68, 0.78, 0.89, 0.98, 1.08, 1.18, 1.28, 1.38, 1.48, 1.59];

// ---------------- drawing ----------------
const YELLOW = "#ffd400", YELLOW_EDGE = "#7d6600";
const ORANGE = "#e95d0b", ORANGE_EDGE = "#6e2a00";
const svg = d3.select("#chart");
const y = d3.scaleLinear().domain([-0.5, 3.5]).range([41.7, 404]);
const xa = d3.scaleLinear().domain([0, 25]).range([63.5, 623]);
const xb = d3.scaleLinear().domain([252.5, 275]).range([656.5, 1207.5]);
const FONT = '"Liberation Sans", Arial, Helvetica, sans-serif';

function zip(xs, ys) { return xs.map((v, i) => [v, ys[i]]); }

function panel(x, ticks, minor, rows, series, xLabel, title, titleX, wodvX, showYLabels) {
  const g = svg.append("g");
  const [x0, x1] = x.range();
  const yTop = y(-0.5), yBot = y(3.5);

  g.append("g").selectAll("line").data(ticks.filter(t => x(t) > x0 + 2 && x(t) < x1 - 2)).join("line")
    .attr("x1", d => x(d)).attr("x2", d => x(d)).attr("y1", yTop).attr("y2", yBot)
    .attr("stroke", "#9a9a9a").attr("stroke-width", 1);
  g.append("g").selectAll("line").data(depthTicks).join("line")
    .attr("x1", x0).attr("x2", x1).attr("y1", d => y(d)).attr("y2", d => y(d))
    .attr("stroke", "#9a9a9a").attr("stroke-width", 1);

  const pts = rows.flatMap(([d, vals]) => vals.map(v => [v, d]));
  g.append("g").selectAll("circle").data(pts).join("circle")
    .attr("cx", p => x(p[0])).attr("cy", p => y(p[1])).attr("r", 2.3).attr("fill", "#000");

  const line = d3.line().x(p => x(p[0])).y(p => y(p[1]));
  series.forEach(s => {
    g.append("path").datum(s.pts).attr("d", line).attr("fill", "none")
      .attr("stroke", s.color).attr("stroke-width", 5).attr("stroke-linejoin", "round");
    g.append("g").selectAll("circle").data(s.pts).join("circle")
      .attr("cx", p => x(p[0])).attr("cy", p => y(p[1])).attr("r", 8)
      .attr("fill", s.color).attr("stroke", s.edge).attr("stroke-width", 0.8);
  });

  g.append("rect").attr("x", x0).attr("y", yTop).attr("width", x1 - x0).attr("height", yBot - yTop)
    .attr("fill", "none").attr("stroke", "#000").attr("stroke-width", 2.5);

  const ax = g.append("g").attr("transform", `translate(0,${yBot})`)
    .call(d3.axisBottom(x).tickValues(ticks).tickSize(6).tickFormat(d3.format("d")));
  ax.select(".domain").remove();
  ax.selectAll("text").attr("y", 25.5).attr("dy", 0).attr("font-size", 17.5).attr("font-family", FONT)
    .attr("font-weight", "bold").attr("font-style", "italic").attr("fill", "#000");
  const axm = g.append("g").attr("transform", `translate(0,${yBot})`)
    .call(d3.axisBottom(x).tickValues(minor).tickSize(4).tickFormat(""));
  axm.select(".domain").remove();

  const ay = g.append("g").attr("transform", `translate(${x0},0)`)
    .call(d3.axisLeft(y).tickValues(depthTicks).tickSize(6).tickFormat(showYLabels ? d3.format("d") : ""));
  ay.select(".domain").remove();
  ay.selectAll("text").attr("x", -10).attr("font-size", 18).attr("font-family", FONT)
    .attr("font-weight", "bold").attr("font-style", "italic").attr("fill", "#000");
  const aym = g.append("g").attr("transform", `translate(${x0},0)`)
    .call(d3.axisLeft(y).tickValues(depthMinor).tickSize(4).tickFormat(""));
  aym.select(".domain").remove();

  g.append("text").attr("x", (x0 + x1) / 2).attr("y", 447.5).attr("text-anchor", "middle")
    .attr("font-size", 17).text(xLabel);
  g.append("text").attr("x", titleX).attr("y", 27).attr("text-anchor", "middle")
    .attr("font-size", 18).text(title);
  g.append("text").attr("transform", `translate(${wodvX},400) rotate(-90)`)
    .attr("font-size", 10.5).text("Web Ocean Data View");
  return g;
}

panel(xa, salTicks, salMinor, salRows, [
  { pts: zip(psSal, psSalDepth), color: ORANGE, edge: ORANGE_EDGE },
  { pts: zip(sipexSal, sipexSalDepth), color: YELLOW, edge: YELLOW_EDGE }
], xLabels[0], titles[0], 354, 639, true);

panel(xb, tempTicks, tempMinor, tempRows, [
  { pts: zip(psTemp, psTempDepth), color: ORANGE, edge: ORANGE_EDGE },
  { pts: zip(sipexTemp, sipexTempDepth), color: YELLOW, edge: YELLOW_EDGE }
], xLabels[1], titles[1], 958, 1222.5, false);

svg.append("text").attr("transform", "translate(23,223) rotate(-90)").attr("text-anchor", "middle")
  .attr("font-size", 17).text(yLabel);

const lg = svg.append("g");
lg.append("rect").attr("x", 700).attr("y", 283).attr("width", 182.5).attr("height", 95)
  .attr("fill", "#fff").attr("stroke", "#000").attr("stroke-width", 4);
lg.append("text").attr("x", 725).attr("y", 320).attr("font-size", 20).attr("fill", YELLOW).text(seriesNames[0]);
lg.append("text").attr("x", 722).attr("y", 357).attr("font-size", 20).attr("fill", ORANGE).text(seriesNames[1]);
</script>
</body></html>
